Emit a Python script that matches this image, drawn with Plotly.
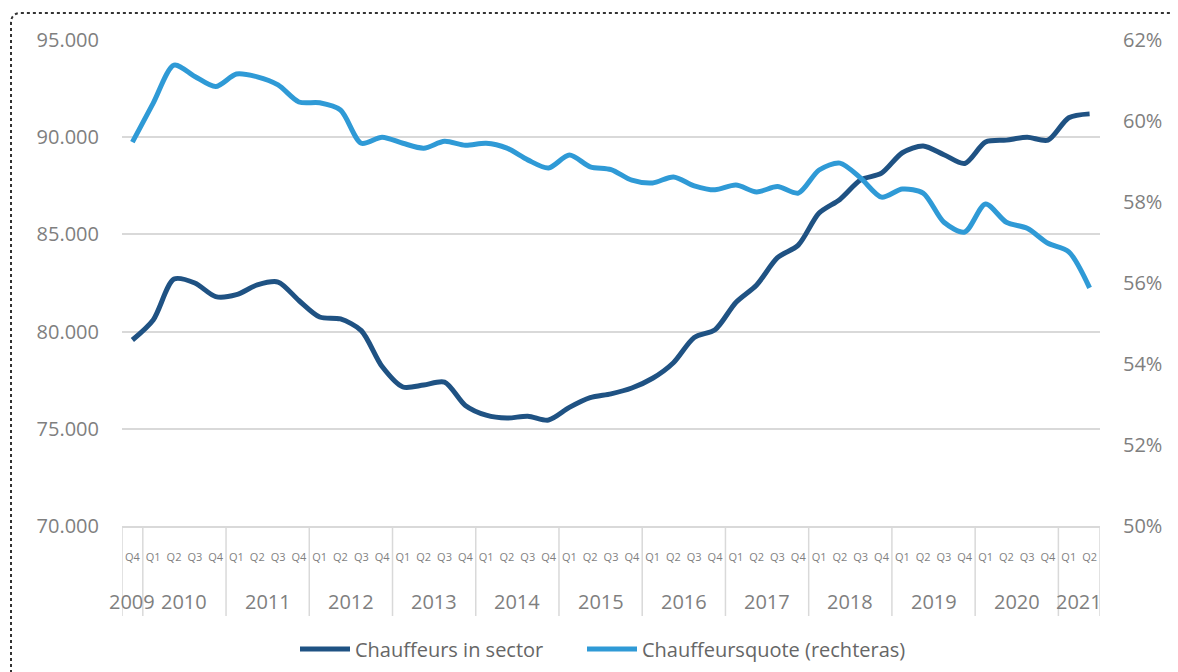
import plotly.graph_objects as go

years = ["2009"] + [str(y) for y in range(2010, 2021) for _ in range(4)] + ["2021", "2021"]
quarters = ["Q4"] + ["Q1", "Q2", "Q3", "Q4"] * 11 + ["Q1", "Q2"]
categories = [f"{y} {q}" for y, q in zip(years, quarters)]

chauffeurs = [79570, 80600, 82700, 82500, 81800, 81900, 82400, 82550, 81600, 80750,
              80650, 80050, 78200, 77150, 77250, 77400, 76200, 75700, 75550, 75650,
              75450, 76100, 76600, 76800, 77100, 77600, 78400, 79700, 80100, 81500,
              82400, 83800, 84450, 86100, 86800, 87800, 88150, 89200, 89550, 89100,
              88650, 89750, 89850, 90000, 89850, 91000, 91200]

quote = [59.48, 60.44, 61.38, 61.10, 60.85, 61.16, 61.09, 60.89, 60.47, 60.45,
         60.27, 59.45, 59.60, 59.45, 59.33, 59.50, 59.40, 59.45, 59.33, 59.04,
         58.84, 59.16, 58.87, 58.80, 58.54, 58.47, 58.62, 58.40, 58.30, 58.42,
         58.25, 58.38, 58.22, 58.79, 58.96, 58.59, 58.12, 58.32, 58.22, 57.50,
         57.26, 57.95, 57.50, 57.35, 56.98, 56.77, 55.88]

left_ticks = [70000, 75000, 80000, 85000, 90000, 95000]
right_ticks = [50, 52, 54, 56, 58, 60, 62]
right_labels = [f"{v}%" for v in right_ticks]

DARK = "#1f5283"
LIGHT = "#2f9ad6"
GRAY = "#7f7f7f"
GRID = "#d9d9d9"
CLEAR = "rgba(0,0,0,0)"
FONT = "Open Sans"

W, H = 1170, 664          # page adds ~8px body offset
ML, MR, MT, MB = 114, 78, 32, 146
PW = W - ML - MR
PH = H - MT - MB

fig = go.Figure()
fig.add_trace(go.Scatter(x=categories, y=chauffeurs, name="Chauffeurs in sector", legend="legend",
                         mode="lines", line=dict(color=DARK, width=5, shape="spline", smoothing=0.8)))
fig.add_trace(go.Scatter(x=categories, y=quote, name="Chauffeursquote (rechteras)", yaxis="y2",
                         legend="legend2",
                         mode="lines", line=dict(color=LIGHT, width=5, shape="spline", smoothing=0.8)))

unique_years = []
for y in years:
    if y not in unique_years:
        unique_years.append(y)
idx = 0
shapes = []
annotations = []
for y in unique_years:
    n = years.count(y)
    center = idx + (n - 1) / 2
    annotations.append(dict(x=center, y=-75 / PH, xref="x", yref="paper", text=y, showarrow=False,
                            font=dict(family=FONT, size=20, color=GRAY), xanchor="center", yanchor="middle"))
    shapes.append(dict(type="line", xref="x", yref="paper", x0=idx - 0.5, x1=idx - 0.5, y0=0, y1=-90 / PH,
                       line=dict(color=GRID, width=1.5)))
    idx += n
shapes.append(dict(type="line", xref="x", yref="paper", x0=idx - 0.5, x1=idx - 0.5, y0=0, y1=-90 / PH,
                   line=dict(color=GRID, width=1.5)))

# dotted rounded outer border (target pixel: left x=11, top y=13)
x0p = (11 - 8 - ML) / PW
ytp = 1 + (MT - (13 - 8)) / PH
rx = 10 / PW
ry = 10 / PH
shapes.append(dict(type="path", xref="paper", yref="paper",
                   path=f"M {x0p},-0.5 L {x0p},{ytp - ry} Q {x0p},{ytp} {x0p + rx},{ytp} L 1.2,{ytp}",
                   line=dict(color="#333333", width=2, dash="dot")))

legend_common = dict(orientation="h", y=-123 / PH, xanchor="left", yanchor="middle",
                     font=dict(family=FONT, size=20, color="#666666"), itemwidth=50,
                     bgcolor=CLEAR)

fig.update_layout(
    width=W, height=H,
    margin=dict(l=ML, r=MR, t=MT, b=MB, autoexpand=False),
    paper_bgcolor="white", plot_bgcolor="white",
    separators=",.",
    font=dict(family=FONT, color=GRAY),
    showlegend=True,
    legend=dict(x=(295 - 8 - ML) / PW, **legend_common),
    legend2=dict(x=(582 - 8 - ML) / PW, **legend_common),
    xaxis=dict(type="category", range=[-0.5, len(categories) - 0.5], tickmode="array",
               tickvals=categories, ticktext=quarters, tickangle=0,
               tickfont=dict(family=FONT, size=11, color=GRAY), ticks="outside", ticklen=20,
               tickcolor=CLEAR, showgrid=False, showline=True, linecolor=GRID, linewidth=1.5,
               zeroline=False),
    yaxis=dict(range=[70000, 95000], tickmode="array", tickvals=left_ticks, tickformat=",d",
               tickfont=dict(family=FONT, size=20, color=GRAY), showgrid=True, gridcolor=GRID,
               gridwidth=1.5, zeroline=False, ticks="outside", ticklen=18, tickcolor=CLEAR,
               showline=False),
    yaxis2=dict(range=[50, 62], tickmode="array", tickvals=right_ticks, ticktext=right_labels,
                overlaying="y", side="right",
                tickfont=dict(family=FONT, size=20, color=GRAY), showgrid=False, zeroline=False,
                ticks="outside", ticklen=18, tickcolor=CLEAR, showline=False),
    shapes=shapes,
    annotations=annotations,
)

fig.write_html("out.html")
